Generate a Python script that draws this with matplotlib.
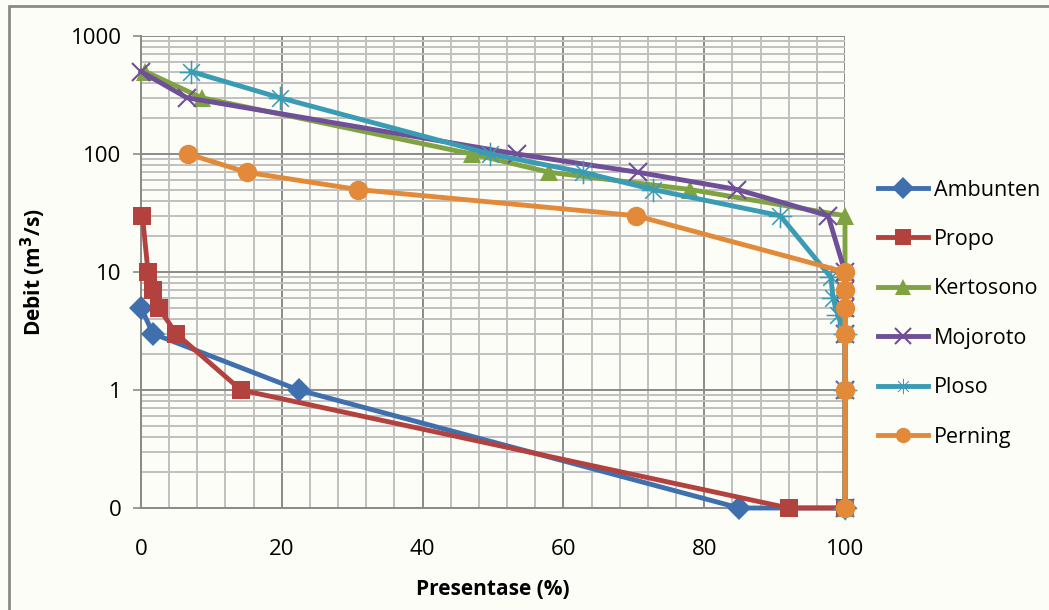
import matplotlib.pyplot as plt
from matplotlib.ticker import FixedLocator, FixedFormatter, MultipleLocator
from matplotlib.patches import Rectangle

plt.rcParams['font.family'] = ['Open Sans', 'DejaVu Sans']

# flow duration data: percentage of time vs discharge (m3/s)
ambunten_x = [0, 1.7, 22.4, 85, 100]
ambunten_y = [5, 3, 1, 0.1, 0.1]

propo_x = [0.2, 1.0, 1.7, 2.5, 5, 14.2, 92, 100]
propo_y = [30, 10, 7, 5, 3, 1, 0.1, 0.1]

kertosono_x = [0.6, 8.6, 47, 58, 78, 100, 100, 100, 100, 100, 100]
kertosono_y = [500, 300, 100, 70, 50, 30, 10, 5, 3, 1, 0.1]

mojoroto_x = [0, 6.5, 53.4, 70.6, 84.7, 97.6, 100, 100, 100, 100, 100, 100]
mojoroto_y = [500, 300, 100, 70, 50, 30, 10, 7, 5, 3, 1, 0.1]

ploso_x = [7.1, 19.7, 49.6, 62.8, 72.7, 90.8, 98, 98.3, 99, 100, 100, 100]
ploso_y = [500, 300, 100, 70, 50, 30, 9, 6, 4.3, 3, 1, 0.1]

perning_x = [6.7, 15, 30.8, 70.3, 100, 100, 100, 100, 100, 100]
perning_y = [100, 70, 50, 30, 10, 7, 5, 3, 1, 0.1]

series = [
    ("Ambunten", ambunten_x, ambunten_y, "#3f70ad", "D", 12),
    ("Propo", propo_x, propo_y, "#b3423f", "s", 13),
    ("Kertosono", kertosono_x, kertosono_y, "#80a341", "^", 13),
    ("Mojoroto", mojoroto_x, mojoroto_y, "#6f4f97", "x", 13),
    ("Ploso", ploso_x, ploso_y, "#3a9bb4", "$\u2733$", 17),
    ("Perning", perning_x, perning_y, "#e2893a", "o", 14),
]

bg = "#fdfdf8"
fig = plt.figure(figsize=(10.49, 6.10), dpi=100, facecolor=bg)
ax = fig.add_axes([141 / 1049, 1 - 508 / 610, (845 - 141) / 1049, (508 - 36) / 610])
ax.set_facecolor(bg)

for name, xs, ys, color, marker, ms in series:
    kw = dict(markeredgewidth=1.5) if marker == "x" else dict(markeredgewidth=0)
    ax.plot(xs, ys, color=color, linewidth=3.5, marker=marker, markersize=ms,
            markerfacecolor=color, markeredgecolor=color, label=name, zorder=3,
            clip_on=False, **kw)

ax.set_yscale("log")
ax.set_ylim(0.1, 1000)
ax.set_xlim(0, 100)

ax.yaxis.set_major_locator(FixedLocator([0.1, 1, 10, 100, 1000]))
ax.yaxis.set_major_formatter(FixedFormatter(["0", "1", "10", "100", "1000"]))
minor_y = [m * 10.0 ** e for e in range(-1, 3) for m in range(2, 10)]
ax.yaxis.set_minor_locator(FixedLocator(minor_y))
ax.yaxis.set_minor_formatter(FixedFormatter([]))
ax.xaxis.set_major_locator(MultipleLocator(20))
ax.xaxis.set_minor_locator(MultipleLocator(4))

ax.grid(which="major", color="#8a8a8a", linewidth=1.4, zorder=0)
ax.grid(which="minor", color="#c0c0c0", linewidth=1.4, zorder=0)
ax.set_axisbelow(True)

for side in ("top", "right"):
    ax.spines[side].set_visible(False)
for side in ("left", "bottom"):
    ax.spines[side].set_color("#8a8a8a")
    ax.spines[side].set_linewidth(1.4)

ax.tick_params(axis="y", which="major", length=6, width=1.2, color="#8a8a8a",
               labelsize=16, pad=8)
ax.tick_params(axis="y", which="minor", length=0)
ax.tick_params(axis="x", which="both", length=0, labelsize=16, pad=22)

ax.set_ylabel("Debit (m$^\\mathbf{3}$/s)", fontsize=15, fontweight="bold", labelpad=16)
ax.set_xlabel("Presentase (%)", fontsize=15, fontweight="bold", labelpad=14)

leg = ax.legend(loc="upper left", bbox_to_anchor=(1.035, 0.714), frameon=False,
                fontsize=15.5, handlelength=2.3, handletextpad=0.3, labelspacing=1.32,
                borderaxespad=0)
for h in leg.legend_handles:
    h.set_markersize(11)

fig.patches.append(Rectangle((9 / 1049, -0.1), 1.2, 1 - 6 / 610 + 0.1,
                             transform=fig.transFigure, fill=False,
                             edgecolor="#8a8a8a", linewidth=2))

fig.savefig("out.png", dpi=100, facecolor=bg)
